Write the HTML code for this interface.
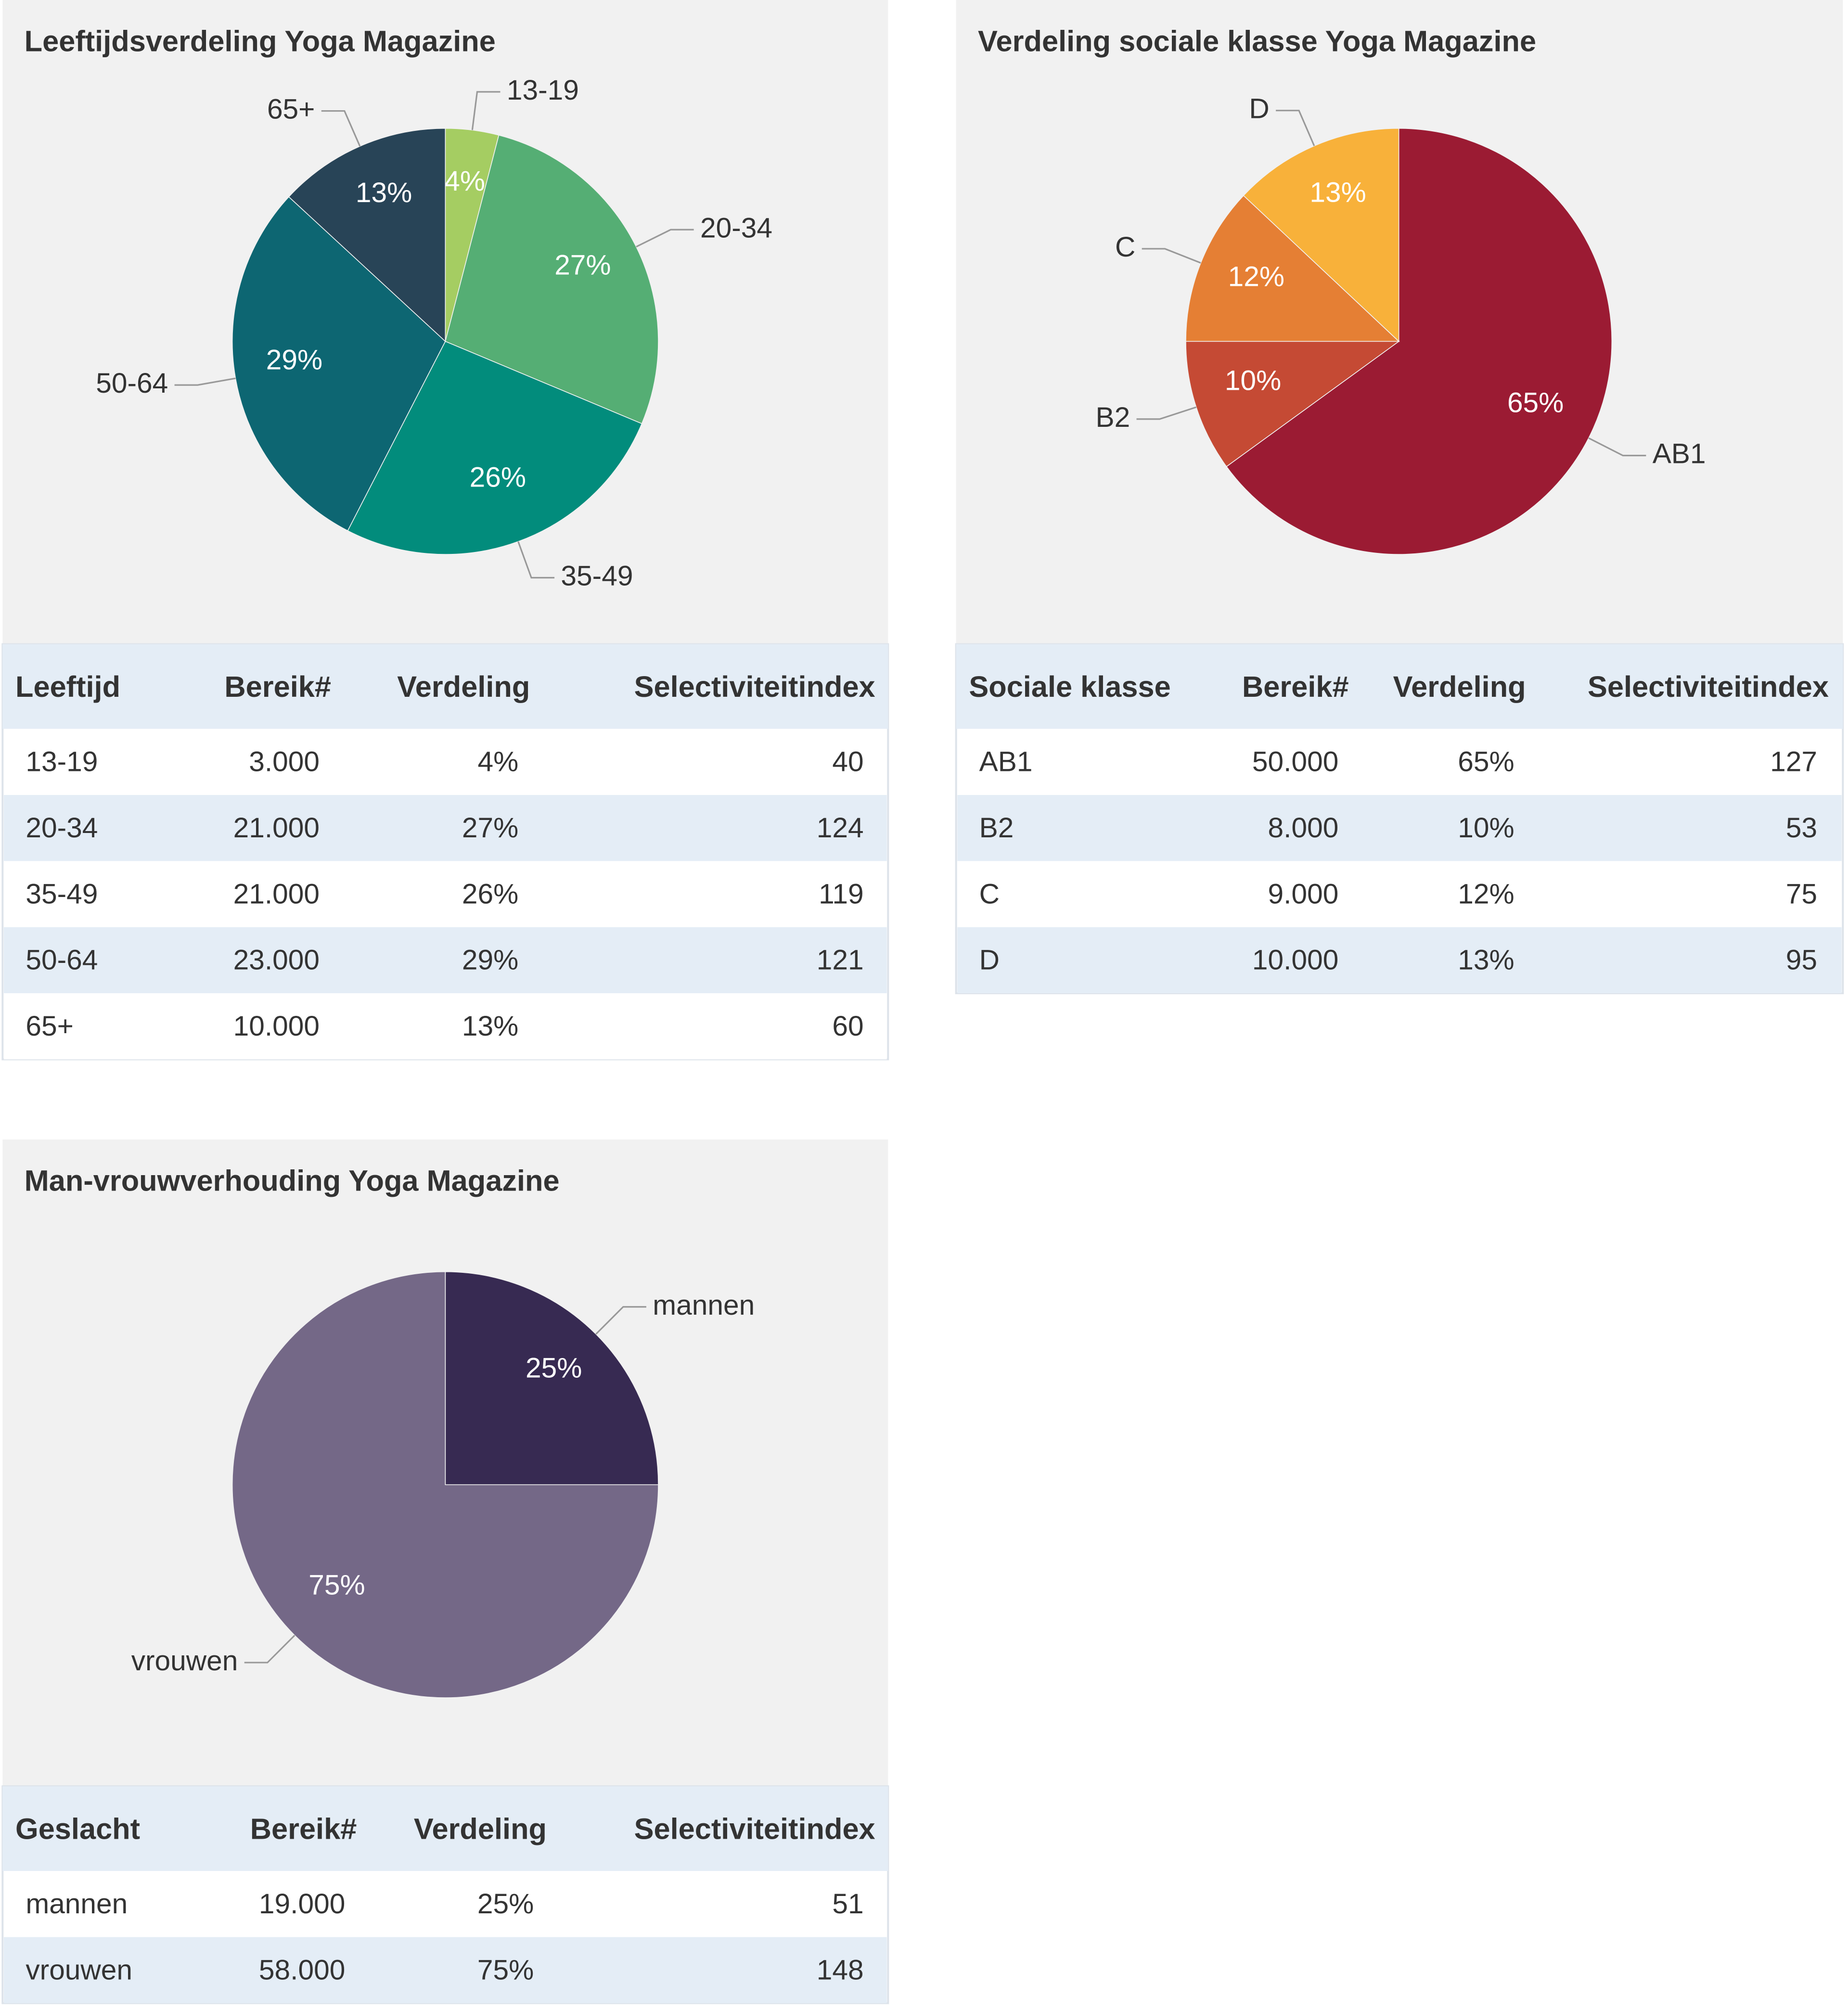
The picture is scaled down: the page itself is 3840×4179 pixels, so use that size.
<!DOCTYPE html>
<html><head><meta charset="utf-8"><style>
html,body{margin:0;padding:0;background:#fff;}
svg{display:block;font-family:"Liberation Sans",sans-serif;}
</style></head><body>
<svg id="root" width="3840" height="4179" viewBox="0 0 1440 1567.1" xmlns="http://www.w3.org/2000/svg"></svg>
<script>
// ---- chart data ----
const ageCats = ["13-19","20-34","35-49","50-64","65+"];
const ageVals = [4,27,26,29,13];
const ageColors = ["#a5cd62","#55ae74","#028c7c","#0d6672","#284457"];
const ageReach = ["3.000","21.000","21.000","23.000","10.000"];
const ageIndex = ["40","124","119","121","60"];

const classCats = ["AB1","B2","C","D"];
const classVals = [65,10,12,13];
const classColors = ["#9b1b33","#c54a34","#e57f34","#f8b13a"];
const classReach = ["50.000","8.000","9.000","10.000"];
const classIndex = ["127","53","75","95"];

const sexCats = ["mannen","vrouwen"];
const sexVals = [25,75];
const sexColors = ["#372a52","#746887"];
const sexReach = ["19.000","58.000"];
const sexIndex = ["51","148"];

const NS="http://www.w3.org/2000/svg";
const root=document.getElementById('root');
function mk(tag,attrs,parent,text){
  const e=document.createElementNS(NS,tag);
  for(const k in attrs)e.setAttribute(k,attrs[k]);
  if(text!==undefined)e.textContent=text;
  (parent||root).appendChild(e);return e;
}

function panel(x,y,w,h,title,name){
  const g=mk('g',{});
  
  
  const r=mk('rect',{x:x,y:y,width:w,height:h,fill:'#f1f1f1'},g);
  
  
  const t=mk('text',{x:x+17,y:y+40,'font-size':23,'font-weight':'bold',fill:'#333'},g,title);
  
  
  return g;
}

function pie(cx,cy,r,cats,vals,colors,name){
  const g=mk('g',{});
  
  
  const total=vals.reduce((a,b)=>a+b,0);
  let acc=0;
  const pt=(a,rr)=>[cx+rr*Math.sin(a),cy-rr*Math.cos(a)];
  vals.forEach((v,i)=>{
    const a0=acc/total*2*Math.PI; acc+=v; const a1=acc/total*2*Math.PI;
    const p0=pt(a0,r),p1=pt(a1,r);
    const large=(a1-a0)>Math.PI?1:0;
    const s=mk('path',{d:`M${cx},${cy}L${p0[0]},${p0[1]}A${r},${r} 0 ${large} 1 ${p1[0]},${p1[1]}Z`,fill:colors[i],stroke:'#f1f1f1','stroke-width':0.6},g);
    
    
    const am=(a0+a1)/2;
    const ip=pt(am,r*0.72);
    const pl=mk('text',{x:ip[0],y:ip[1]+1,'font-size':22,fill:'#fff','text-anchor':'middle'},g,v+'%');
    
    
    const e=pt(am,r), el=pt(am,r+30);
    const right=Math.sin(am)>=0;
    const hx=el[0]+(right?18:-18);
    const ln=mk('polyline',{points:`${e[0]},${e[1]} ${el[0]},${el[1]} ${hx},${el[1]}`,fill:'none',stroke:'#999','stroke-width':1.2},g);
    
    
    const ol=mk('text',{x:hx+(right?5:-5),y:el[1]+6,'font-size':22,fill:'#333','text-anchor':right?'start':'end'},g,cats[i]);
    
    
  });
}

function table(x,y,w,headers,hx,dx,rows,name){
  const g=mk('g',{});
  
  
  const hh=66,rh=51.5;
  const total=hh+rows.length*rh;
  const b=mk('rect',{x:x,y:y,width:w,height:total,fill:'#fff',stroke:'#dde3ea','stroke-width':1.5},g);
  
  
  const hr=mk('rect',{x:x,y:y,width:w,height:hh,fill:'#e4edf6'},g);
  
  
  headers.forEach((h,i)=>{
    const t=mk('text',{x:x+hx[i],y:y+41,'font-size':23,'font-weight':'bold',fill:'#333','text-anchor':i==0?'start':'end'},g,h);
    
    
  });
  rows.forEach((row,ri)=>{
    const ry=y+hh+ri*rh;
    const rr=mk('rect',{x:x+1,y:ry,width:w-2,height:rh,fill:ri%2?'#e4edf6':'#fff'},g);
    
    
    row.forEach((c,ci)=>{
      const t=mk('text',{x:x+dx[ci],y:ry+33,'font-size':22,fill:'#333','text-anchor':ci==0?'start':'end'},g,c);
      
      
    });
  });
}

// Panel 1
panel(2,0,690,502,'Leeftijdsverdeling Yoga Magazine','age-chart-panel');
pie(347,266,166,ageCats,ageVals,ageColors,'age-pie');
table(2,502,690,['Leeftijd','Bereik#','Verdeling','Selectiviteitindex'],[10,256,411,680],[18,247,402,671],
  ageCats.map((c,i)=>[c,ageReach[i],ageVals[i]+'%',ageIndex[i]]),'age-table');

// Panel 2
panel(745,0,691,502,'Verdeling sociale klasse Yoga Magazine','class-chart-panel');
pie(1090,266,166,classCats,classVals,classColors,'class-pie');
table(745,502,691,['Sociale klasse','Bereik#','Verdeling','Selectiviteitindex'],[10,306,444,680],[18,298,435,671],
  classCats.map((c,i)=>[c,classReach[i],classVals[i]+'%',classIndex[i]]),'class-table');

// Panel 3
panel(2,888,690,504,'Man-vrouwverhouding Yoga Magazine','gender-chart-panel');
pie(347,1157,166,sexCats,sexVals,sexColors,'gender-pie');
table(2,1392,690,['Geslacht','Bereik#','Verdeling','Selectiviteitindex'],[10,276,424,680],[18,267,414,671],
  sexCats.map((c,i)=>[c,sexReach[i],sexVals[i]+'%',sexIndex[i]]),'gender-table');
</script>
</body></html>
